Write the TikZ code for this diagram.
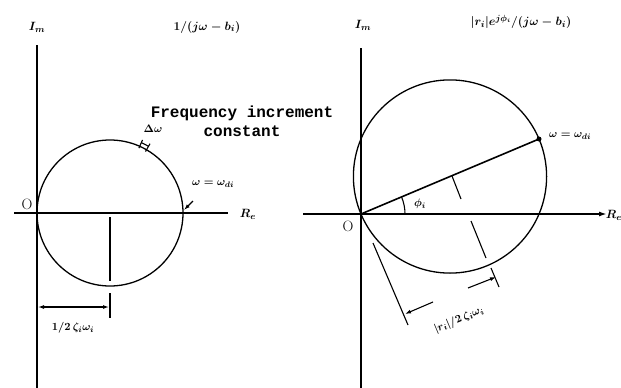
\documentclass[tikz,border=0pt]{standalone}
\usepackage{fontspec}
\setmonofont{Liberation Mono}
\usetikzlibrary{arrows.meta,calc}
\tikzset{
  axisline/.style={line width=1.8pt},
  curveline/.style={line width=1.3pt},
  thinline/.style={line width=1.1pt},
  bigtxt/.style={font={\fontsize{13}{15}\selectfont\bfseries\boldmath}, inner sep=0pt},
  smtxt/.style={font={\fontsize{11}{13}\selectfont\bfseries\boldmath}, inner sep=0pt},
  otxt/.style={font={\fontsize{15}{17}\selectfont}, inner sep=0pt},
  monotxt/.style={font={\fontsize{16}{19}\selectfont\ttfamily\bfseries}, inner sep=0pt, align=center}}
\begin{document}
\begin{tikzpicture}[x=1pt,y=-1pt,>={Latex[length=6pt,width=4pt]}]
\useasboundingbox (0,0) rectangle (621,388);
% ---------------- left panel ----------------
\coordinate (Ltop) at (37,45);
\coordinate (Lbot) at (37,388);
\coordinate (Lleft) at (14,213);
\coordinate (Lright) at (228,213);
\coordinate (LC) at (110,213);
\draw[axisline] (Ltop) -- (Lbot);
\draw[axisline] (Lleft) -- (Lright);
\draw[curveline] (LC) circle[radius=73];
\coordinate (Lc1) at (110,217);
\coordinate (Lc2) at (110,281);
\coordinate (Lt1) at (110,293);
\coordinate (Lt2) at (110,318);
\draw[thinline] (Lc1) -- (Lc2);
\draw[thinline] (Lt1) -- (Lt2);
\coordinate (Ld1) at (38,307);
\coordinate (Ld2) at (109,307);
\draw[thinline,<->] (Ld1) -- (Ld2);
\node[smtxt] (ldim) at (73,328) {$1/2\,\zeta_i\omega_i$};
\node[bigtxt] (im1) at (37,27) {$I_m$};
\node[bigtxt] (re1) at (248,214) {$R_e$};
\node[otxt] (o1) at (27,204) {O};
\node[bigtxt] (t1) at (207,27) {$1/(j\omega-b_i)$};
\coordinate (dm1a) at ($(LC)+(-60:71)$);
\coordinate (dm1b) at ($(LC)+(-60:80)$);
\coordinate (dm2a) at ($(LC)+(-66:71)$);
\coordinate (dm2b) at ($(LC)+(-66:80)$);
\coordinate (dm3) at ($(LC)+(-60:77)$);
\draw[thinline] (dm1a) -- (dm1b);
\draw[thinline] (dm2a) -- (dm2b);
\draw[thinline] (dm3) arc[start angle=-60,end angle=-66,radius=77];
\node[smtxt] (dw) at (153,129) {$\Delta\omega$};
\node[smtxt] (wd1) at (213,184) {$\omega=\omega_{di}$};
\coordinate (wa1) at (193,201);
\coordinate (wa2) at (184,210);
\draw[thinline,->] (wa1) -- (wa2);
\node[monotxt] (freq) at (242,121) {Frequency increment\\constant};
% ---------------- right panel ----------------
\coordinate (Rtop) at (361,48);
\coordinate (Rbot) at (361,388);
\coordinate (Rleft) at (303,214);
\coordinate (Rright) at (607,214);
\coordinate (RO) at (361,214);
\coordinate (RC) at (450,176.5);
\coordinate (RD) at (539,139);
\draw[axisline] (Rtop) -- (Rbot);
\draw[axisline,-{Latex[length=8pt,width=5pt]}] (Rleft) -- (Rright);
\draw[curveline] (RC) circle[radius=96.6];
\draw[line width=1.6pt] (RO) -- (RD);
\fill (RD) circle[radius=2.5];
\coordinate (arcs) at (405,214);
\draw[thinline] (arcs) arc[start angle=0,end angle=-22.85,radius=44];
\node[smtxt] (phi) at (420,204) {$\phi_i$};
\coordinate (pc1) at (452,176);
\coordinate (pc2) at (461,199);
\coordinate (pc3) at (471,221);
\coordinate (pc4) at (486,258);
\draw[thinline] (pc1) -- (pc2);
\draw[thinline] (pc3) -- (pc4);
\coordinate (e1a) at (491,268);
\coordinate (e1b) at (499,287);
\draw[thinline] (e1a) -- (e1b);
\coordinate (e2a) at (373,243);
\coordinate (e2b) at (408,325);
\draw[thinline] (e2a) -- (e2b);
\coordinate (a1s) at (433,302);
\coordinate (a1e) at (405,314);
\coordinate (a2s) at (468,288);
\coordinate (a2e) at (496,277);
\draw[thinline,->] (a1s) -- (a1e);
\draw[thinline,->] (a2s) -- (a2e);
\node[smtxt,rotate=22.85] (rdim) at (459,320) {$|r_i|/2\,\zeta_i\omega_i$};
\node[bigtxt] (im2) at (363,25) {$I_m$};
\node[bigtxt] (re2) at (614,215) {$R_e$};
\node[otxt] (o2) at (348,226) {O};
\node[bigtxt] (t2) at (521,22) {$|r_i|e^{j\phi_i}/(j\omega-b_i)$};
\node[smtxt] (wd2) at (570,136) {$\omega=\omega_{di}$};
\end{tikzpicture}
\end{document}
